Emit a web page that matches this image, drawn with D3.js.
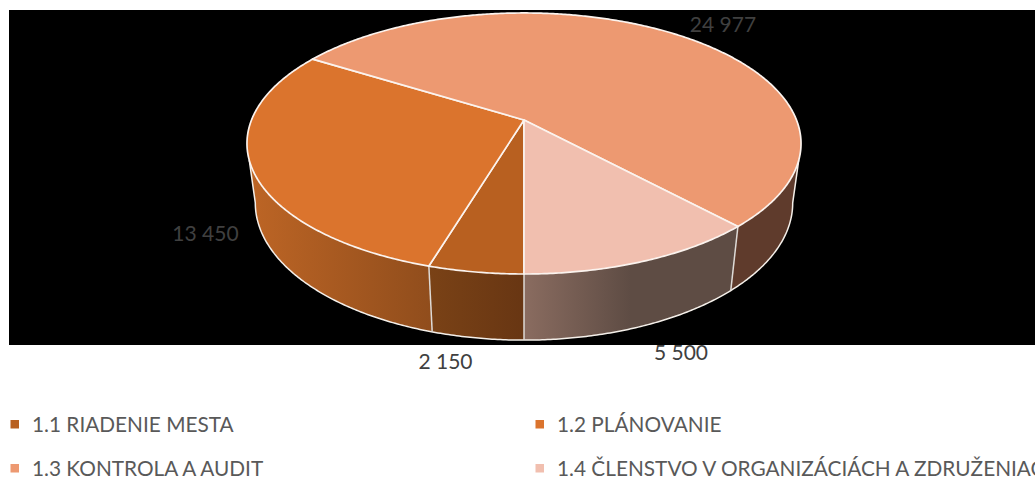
<!DOCTYPE html>
<html>
<head>
<meta charset="utf-8">
<script src="https://cdn.jsdelivr.net/npm/d3@7"></script>
<style>
html, body { margin: 0; padding: 0; background: #fff; overflow: hidden; }
svg { display: block; }
text { font-family: Lato, "Open Sans", sans-serif; }
</style>
</head>
<body>
<svg></svg>
<script>
const categories = ['1.1 RIADENIE MESTA', '1.2 PLÁNOVANIE', '1.3 KONTROLA A AUDIT', '1.4 ČLENSTVO V ORGANIZÁCIÁCH A ZDRUŽENIACH'];
const values = [2150, 13450, 24977, 5500];
const topColors = ['#b86020', '#db742d', '#ed9971', '#f1bfaf'];
// wall shading, left to right
const wallLeft = ['#7a4216', '#bd6525', '#5f3b2c', '#8a6c60'];
const wallRight = ['#683613', '#904d1c', '#5f3b2c', '#5e4c44'];
const wallRightAt = [1, 1, 1, 0.5];

const width = 1035;
const height = 479;

// perspective of the disc: apex of the slices sits above the centre of the ellipse
const cx = 524;
const cy = 120;
const scaleX = 272.5;
const scaleY = 126.3;
const tilt = 0.18;
const depth = 60.8;
const shrink = 0.03;

const deg = Math.PI / 180;
// where the wall turns out of sight, on the top edge and on the lower edge
const topLimits = [107.5 * deg, 252.5 * deg];
const lowLimits = [100 * deg, 260 * deg];

const svg = d3.select('svg').attr('width', width).attr('height', height);
const defs = svg.append('defs');

svg.append('rect')
    .attr('x', 9).attr('y', 10)
    .attr('width', width - 9).attr('height', 335)
    .attr('fill', '#000');

// level 0 is the top face, level 1 the bottom edge
function project (angle, level) {
    const u = Math.sin(angle);
    const v = -Math.cos(angle);
    const w = 1 - tilt * v + shrink * level;
    return [cx + scaleX * u / w, cy + (scaleY * v + depth * level) / w];
}

const pie = d3.pie().sort(null).startAngle(Math.PI).endAngle(3 * Math.PI);
const slices = pie(values);
const line = d3.line();
const step = Math.PI / 360;

function arcPoints (a0, a1, level) {
    const n = Math.max(1, Math.ceil(Math.abs(a1 - a0) / step));
    return d3.range(n + 1).map(i => project(a0 + (a1 - a0) * i / n, level));
}

function clampAngle (a, limits) {
    return Math.min(limits[1], Math.max(limits[0], a));
}

function drawWalls () {
    slices.forEach((s, i) => {
        const shift = s.endAngle > 2 * Math.PI ? 2 * Math.PI : 0;
        const a0 = s.startAngle - shift;
        const a1 = s.endAngle - shift;
        const upper = arcPoints(clampAngle(a0, topLimits), clampAngle(a1, topLimits), 0);
        const lower = arcPoints(clampAngle(a1, lowLimits), clampAngle(a0, lowLimits), 1);
        const pts = upper.concat(lower);
        const xs = d3.extent(pts, p => p[0]);

        const grad = defs.append('linearGradient')
            .attr('id', 'wall' + i)
            .attr('gradientUnits', 'userSpaceOnUse')
            .attr('x1', xs[0]).attr('x2', xs[1])
            .attr('y1', 0).attr('y2', 0);
        grad.append('stop').attr('offset', 0).attr('stop-color', wallLeft[i]);
        grad.append('stop').attr('offset', wallRightAt[i]).attr('stop-color', wallRight[i]);

        svg.append('path')
            .attr('d', line(pts) + 'Z')
            .attr('fill', 'url(#wall' + i + ')');
    });

    // outline of the lower edge with the two straight sides
    const outline = [project(topLimits[0], 0)]
        .concat(arcPoints(lowLimits[0], lowLimits[1], 1))
        .concat([project(topLimits[1], 0)]);
    svg.append('path')
        .attr('d', line(outline))
        .attr('fill', 'none')
        .attr('stroke', '#f4efe9')
        .attr('stroke-width', 1.5);

    // seams between the slices on the wall
    svg.append('g').selectAll('line')
        .data(slices.filter(s => Math.cos(s.startAngle) < 0))
        .enter()
        .append('line')
        .attr('x1', d => project(d.startAngle, 0)[0])
        .attr('y1', d => project(d.startAngle, 0)[1])
        .attr('x2', d => project(d.startAngle, 1)[0])
        .attr('y2', d => project(d.startAngle, 1)[1])
        .attr('stroke', '#dedad6')
        .attr('stroke-width', 1.5);
}

function drawTop () {
    svg.append('g').selectAll('path')
        .data(slices)
        .enter()
        .append('path')
        .attr('d', d => line([[cx, cy]].concat(arcPoints(d.startAngle, d.endAngle, 0))) + 'Z')
        .attr('fill', (d, i) => topColors[i])
        .attr('stroke', '#fbf3ee')
        .attr('stroke-width', 1.7)
        .attr('stroke-linejoin', 'round');
}

function drawLabels () {
    const fmt = d3.formatLocale({ thousands: '\u00a0', grouping: [3], decimal: ',', currency: ['', ''] }).format(',');
    const spots = [[445.5, 369], [205.5, 241], [723, 32], [681, 359.5]];
    svg.append('g').selectAll('text')
        .data(values)
        .enter()
        .append('text')
        .attr('x', (d, i) => spots[i][0])
        .attr('y', (d, i) => spots[i][1])
        .attr('text-anchor', 'middle')
        .attr('font-size', 21)
        .attr('fill', '#404040')
        .text(d => fmt(d));
}

function drawLegend () {
    const colX = [10.5, 535.5];
    const rowY = [432, 476];
    const items = svg.append('g').selectAll('g')
        .data(categories)
        .enter()
        .append('g')
        .attr('transform', (d, i) => 'translate(' + colX[i % 2] + ',' + rowY[Math.floor(i / 2)] + ')');

    items.append('rect')
        .attr('x', 0).attr('y', -12)
        .attr('width', 8.5).attr('height', 8.5)
        .attr('fill', (d, i) => topColors[i]);

    items.append('text')
        .attr('x', 21.5)
        .attr('font-size', 20.8)
        .attr('fill', '#595959')
        .text(d => d);
}

drawWalls();
drawTop();
drawLabels();
drawLegend();
</script>
</body>
</html>
